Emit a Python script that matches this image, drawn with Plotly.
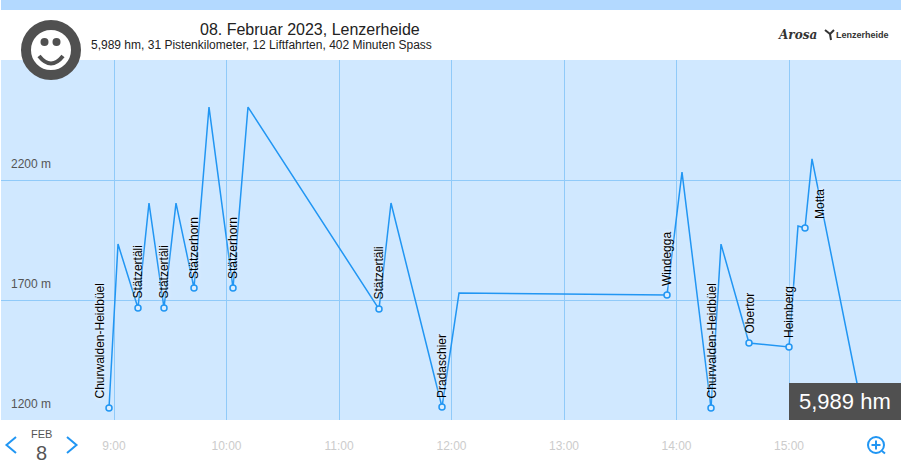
import plotly.graph_objects as go

# Skitag, Werte
times = [
    "08:57:20", "09:02:08", "09:12:48", "09:18:40", "09:26:40", "09:33:04",
    "09:42:40", "09:50:40", "10:03:28", "10:11:28", "11:21:20", "11:27:44",
    "11:54:56", "12:04:00", "13:54:56", "14:02:56", "14:18:24", "14:23:44",
    "14:38:40", "15:00:00", "15:04:48", "15:08:32", "15:12:16", "15:38:56",
]
elevation = [
    1250, 1933, 1667, 2104, 1667, 2104,
    1750, 2504, 1750, 2504, 1662, 2104,
    1254, 1729, 1721, 2233, 1250, 1933,
    1521, 1504, 2008, 2000, 2288, 1250,
]

# Liftstationen
lift_names = [
    "Churwalden-Heidbüel", "Stätzertäli", "Stätzertäli", "Stätzerhorn",
    "Stätzerhorn", "Stätzertäli", "Pradaschier", "Windegga",
    "Churwalden-Heidbüel", "Obertor", "Heimberg", "Motta",
]
lift_times = [
    "08:57:20", "09:12:48", "09:26:40", "09:42:40",
    "10:03:28", "11:21:20", "11:54:56", "13:54:56",
    "14:18:24", "14:38:40", "15:00:00", "15:08:32",
]
lift_elevation = [1250, 1667, 1667, 1750, 1750, 1662, 1254, 1721, 1250, 1521, 1504, 2000]
lift_xshift = [-10, 0, 0, 0, 0, 0, 0, 0, 0, 1, 0, 15]

y_ticks = [1200, 1700, 2200]
x_ticks = ["09:00", "10:00", "11:00", "12:00", "13:00", "14:00", "15:00"]
x_labels = ["9:00", "10:00", "11:00", "12:00", "13:00", "14:00", "15:00"]

DAY = "2023-02-08 "
W, H = 902, 471
L, R, T, B = 1, 901, 60, 420
DARK = "#505050"
BLUE = "#2196f3"
GRID = "#90caf9"
FONT = "Liberation Sans"


def px(x):
    return (x - L) / (R - L)


def py(y):
    return (B - y) / (B - T)


def rect(x0, y0, x1, y1, color):
    return dict(type="rect", xref="paper", yref="paper", x0=px(x0), x1=px(x1),
                y0=py(y0), y1=py(y1), fillcolor=color, line_width=0, layer="above")


def circle(cx, cy, r, fill, line_color=None, line_width=0):
    return dict(type="circle", xref="paper", yref="paper", x0=px(cx - r), x1=px(cx + r),
                y0=py(cy - r), y1=py(cy + r), fillcolor=fill,
                line=dict(color=line_color or fill, width=line_width), layer="above")


def path(points, color, width, curve=False):
    if curve:
        (a, b), (c, d), (e, f) = points
        d_str = f"M {px(a)} {py(b)} Q {px(c)} {py(d)} {px(e)} {py(f)}"
    else:
        d_str = "M " + " L ".join(f"{px(a)} {py(b)}" for a, b in points)
    return dict(type="path", xref="paper", yref="paper", path=d_str,
                line=dict(color=color, width=width), layer="above")


def text(x, y, s, size, color="#222222", family=FONT, xanchor="center", **kw):
    return dict(xref="paper", yref="paper", x=px(x), y=py(y), text=s, showarrow=False,
                xanchor=xanchor, yanchor="middle", font=dict(size=size, color=color, family=family), **kw)


fig = go.Figure()

fig.add_trace(go.Scatter(
    x=[DAY + t for t in times],
    y=elevation,
    mode="lines",
    line=dict(color=BLUE, width=1.5),
    hoverinfo="skip",
))
fig.add_trace(go.Scatter(
    x=[DAY + t for t in lift_times],
    y=lift_elevation,
    mode="markers",
    marker=dict(size=6, color="#d9edff", line=dict(color=BLUE, width=1.5)),
    hoverinfo="skip",
))

annotations = []
for name, t, e, xs in zip(lift_names, lift_times, lift_elevation, lift_xshift):
    annotations.append(dict(
        x=DAY + t, y=e, text=name, textangle=-90, showarrow=False,
        xanchor="center", yanchor="bottom", xshift=xs, yshift=7,
        font=dict(size=12, color="#000000", family=FONT, shadow="0 0 4px #ffffff"),
    ))

annotations += [
    text(309.5, 29, "08. Februar 2023, Lenzerheide", 16),
    text(261, 45, "5,989 hm, 31 Pistenkilometer, 12 Liftfahrten, 402 Minuten Spass", 12),
    text(797, 35, "<b><i>Arosa</i></b>", 12, "#333333", "DejaVu Serif"),
    text(862.5, 35, "<b>Lenzerheide</b>", 9, "#333333", FONT),
    text(845, 401, "5,989 hm", 22, "#ffffff"),
    text(41, 434, "FEB", 11, "#555555"),
    text(41, 453, "8", 20, "#555555"),
]

shapes = [
    rect(1, 0, 901, 10, "#b3d9ff"),
    # Smiley
    circle(51, 50, 25, "#ffffff", DARK, 10),
    circle(44.5, 42, 4, DARK),
    circle(56.5, 42, 4, DARK),
    path([(39, 56), (51, 71), (63, 56)], DARK, 4, curve=True),
    # Logo
    path([(825, 30), (830, 34), (831, 40)], "#333333", 2),
    path([(834, 30), (830, 34)], "#333333", 2),
    # Kasten
    rect(789, 383, 901, 420, DARK),
    # Navigation
    path([(16, 437), (6.5, 445), (16, 453)], BLUE, 2),
    path([(67, 437), (76.5, 445), (67, 453)], BLUE, 2),
    # Zoom
    circle(876, 445, 8, "rgba(0,0,0,0)", BLUE, 2),
    path([(876, 440.5), (876, 449.5)], BLUE, 2),
    path([(871.5, 445), (880.5, 445)], BLUE, 2),
    path([(882, 451), (885, 453.5)], BLUE, 2),
]

fig.update_layout(
    width=W, height=H,
    margin=dict(l=L, r=W - R, t=T, b=H - B, pad=0),
    paper_bgcolor="#ffffff",
    plot_bgcolor="#d0e8ff",
    showlegend=False,
    font=dict(family=FONT),
    shapes=shapes,
    annotations=annotations,
    xaxis=dict(
        type="date",
        range=[DAY + "07:59:44", DAY + "15:59:44"],
        tickvals=[DAY + t for t in x_ticks],
        ticktext=x_labels,
        tickfont=dict(size=12, color="#cccccc"),
        ticklen=0,
        ticklabelstandoff=17,
        gridcolor=GRID, gridwidth=1,
        zeroline=False, showline=False,
    ),
    yaxis=dict(
        range=[1200, 2700],
        tickvals=y_ticks,
        ticktext=[f"{v} m" for v in y_ticks],
        tickfont=dict(size=12, color="#555555"),
        ticklabelposition="inside",
        ticklabeloverflow="allow",
        ticklabelstandoff=7,
        ticklabelshift=-16,
        ticklen=0,
        gridcolor=GRID, gridwidth=1,
        zeroline=False, showline=False,
    ),
)

fig.write_html("out.html", config=dict(displayModeBar=False),
               post_script="document.body.style.margin='0';document.body.style.overflow='hidden';")
